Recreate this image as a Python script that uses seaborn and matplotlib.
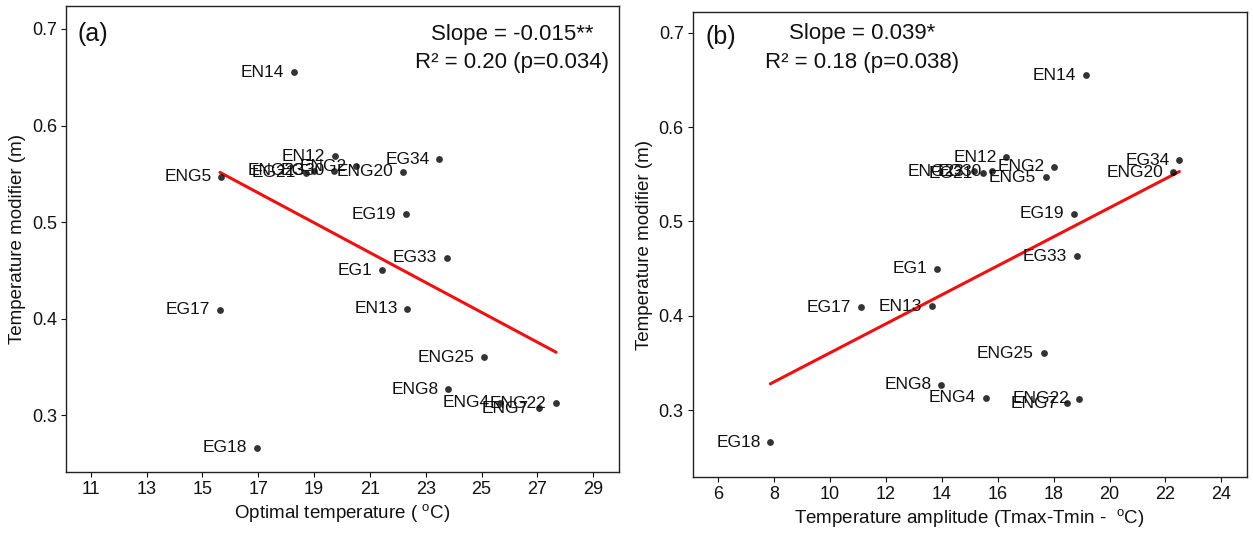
import matplotlib
matplotlib.use("Agg")
import matplotlib.pyplot as plt
import seaborn as sns
import pandas as pd

sites = ["EN14", "EN12", "ENG2", "EG34", "ENG20", "ENG5", "ENG23", "EG21", "EG30",
         "EG19", "EG33", "EG1", "EN13", "EG17", "ENG25", "ENG8", "ENG4", "ENG7",
         "ENG22", "EG18"]
t_modifier = [0.655, 0.568, 0.558, 0.565, 0.552, 0.547, 0.553, 0.551, 0.553,
              0.508, 0.463, 0.450, 0.410, 0.409, 0.360, 0.327, 0.313, 0.307,
              0.312, 0.266]
opt_temp = [18.28, 19.75, 20.51, 23.49, 22.18, 15.68, 19.01, 18.70, 19.73,
            22.30, 23.75, 21.43, 22.34, 15.63, 25.08, 23.81, 25.65, 27.05,
            27.67, 16.94]
t_amplitude = [19.16, 16.31, 18.02, 22.50, 22.26, 17.71, 15.15, 15.46, 15.79,
               18.73, 18.82, 13.82, 13.65, 11.09, 17.64, 13.97, 15.57, 18.49,
               18.92, 7.86]

xticks_a = [11, 13, 15, 17, 19, 21, 23, 25, 27, 29]
xticks_b = [6, 8, 10, 12, 14, 16, 18, 20, 22, 24]
yticks = [0.3, 0.4, 0.5, 0.6, 0.7]

df = pd.DataFrame({"site": sites, "m": t_modifier, "topt": opt_temp, "tamp": t_amplitude})

sns.set_theme(style="white")
plt.rcParams["font.family"] = ["Liberation Sans", "DejaVu Sans"]
plt.rcParams["mathtext.fontset"] = "custom"
plt.rcParams["mathtext.rm"] = "Liberation Sans"
plt.rcParams["mathtext.it"] = "Liberation Sans:italic"

fig = plt.figure(figsize=(12.53, 5.33), dpi=100)
ax1 = fig.add_axes([0.0527, 0.1144, 0.4413, 0.8743])
ax2 = fig.add_axes([0.5528, 0.105, 0.4422, 0.8725])

TXT = "#111111"


def draw(ax, xcol, xlim, ylim, xticks, xlabel, panel, s1, s2, tx, ty1, ty2, px):
    sns.regplot(data=df, x=xcol, y="m", ax=ax, ci=None, truncate=True,
                scatter_kws=dict(s=24, color="black", linewidths=0, zorder=3),
                line_kws=dict(color="#ee1111", lw=2.2))
    for _, r in df.iterrows():
        ax.annotate(r["site"], (r[xcol], r["m"]), xytext=(-7, 0),
                    textcoords="offset points", ha="right", va="center",
                    fontsize=12.5, color=TXT)
    ax.set_xlim(*xlim)
    ax.set_ylim(*ylim)
    ax.set_xticks(xticks)
    ax.set_yticks(yticks)
    ax.set_yticklabels([f"{v:.1f}" for v in yticks])
    ax.tick_params(axis="both", labelsize=13, length=3.5, width=0.8,
                   direction="out", bottom=True, left=True, colors=TXT,
                   pad=3)
    ax.set_xlabel(xlabel, fontsize=13.5, color=TXT, labelpad=3)
    ax.set_ylabel("Temperature modifier (m)", fontsize=13.5, color=TXT,
                  labelpad=4)
    for sp in ax.spines.values():
        sp.set_visible(True)
        sp.set_color("#222222")
        sp.set_linewidth(1.0)
    ax.text(px, 0.695, panel, fontsize=18, ha="left", va="center", color=TXT)
    ax.text(tx, ty1, s1, fontsize=16, ha="center", va="center", color=TXT)
    ax.text(tx, ty2, s2, fontsize=16, ha="center", va="center", color=TXT)


draw(ax1, "topt", (10.115, 29.92), (0.241, 0.7238), xticks_a,
     r"Optimal temperature ( $^{\mathrm{o}}$C)", "(a)",
     "Slope = -0.015**", "R\u00b2 = 0.20 (p=0.034)", 26.1, 0.6948, 0.6649, 10.53)
draw(ax2, "tamp", (5.08, 24.91), (0.229, 0.722), xticks_b,
     r"Temperature amplitude (Tmax-Tmin -  $^{\mathrm{o}}$C)", "(b)",
     "Slope = 0.039*", "R\u00b2 = 0.18 (p=0.038)", 11.14, 0.699, 0.668, 5.55)

fig.savefig("out.png", dpi=100, facecolor="white")
